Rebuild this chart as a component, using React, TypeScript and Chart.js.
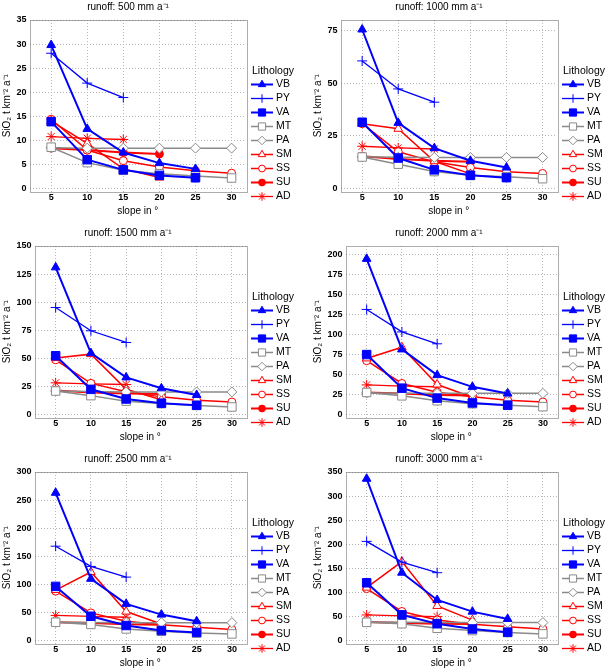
import React, { useEffect, useRef } from 'react';
import { Chart, registerables } from 'chart.js';
import { drawPoint } from 'chart.js/helpers';

Chart.register(...registerables);

const FONT = "'Liberation Sans', Arial, sans-serif";

const slopes = [5, 10, 15, 20, 25, 30];
const runoffs = [500, 1000, 1500, 2000, 2500, 3000];
const yMaxes = [35, 80, 150, 210, 300, 350];
const yTickSteps = [5, 25, 25, 25, 50, 50];
const lithologies = ['VB', 'PY', 'VA', 'MT', 'PA', 'SM', 'SS', 'SU', 'AD'];

// each row = one runoff panel (500..3000), values at slopes 5, 10, 15, ...
const VB = [
  [29.8, 12.4, 7.5, 5.3, 4.1],
  [75.5, 31.2, 19.2, 13.2, 10.0],
  [131, 54.7, 33.1, 23.4, 17.5],
  [194, 81.2, 49.2, 34.6, 26.2],
  [263, 110, 65.4, 46.3, 34.5],
  [336, 141, 84.4, 60.2, 45.0],
];
const PY = [
  [28.1, 21.9, 18.9],
  [60.6, 47.3, 41.0],
  [95.3, 74.6, 64.2],
  [131, 103, 88.2],
  [168, 132, 113],
  [206, 163, 141],
];
const VA = [
  [13.9, 6.0, 3.9, 2.75, 2.25],
  [31.5, 14.5, 8.9, 6.3, 5.2],
  [52.4, 22.5, 13.9, 10.2, 8.3],
  [74.8, 33.0, 20.6, 14.6, 11.8],
  [96.5, 43.4, 26.9, 18.0, 14.6],
  [120, 53.5, 35.0, 24.2, 17.6],
];
const MT = [
  [8.6, 5.4, 3.8, 3.1, 2.6, 2.2],
  [15.0, 11.6, 8.1, 6.3, 5.6, 4.7],
  [21.0, 16.9, 12.0, 9.8, 8.2, 6.8],
  [27.6, 23.4, 17.3, 13.6, 11.6, 9.9],
  [32.7, 28.8, 20.8, 16.6, 13.4, 11.9],
  [38.0, 35.0, 25.6, 20.8, 16.8, 14.0],
];
const PA = [
  [8.5, 8.4, 8.4, 8.4, 8.4, 8.4],
  [15.1, 14.9, 14.8, 14.8, 14.8, 14.8],
  [21.0, 20.6, 20.2, 20.2, 20.2, 20.2],
  [27.0, 26.7, 26.5, 26.5, 26.5, 26.5],
  [32.5, 32.2, 32.0, 32.0, 32.0, 32.0],
  [38.5, 38.0, 37.5, 37.5, 37.5, 37.5],
];
const SM = [
  [14.0, 9.4, 4.1, 2.3],
  [30.8, 28.4, 13.0, 7.0],
  [50.3, 53.8, 22.5, 13.2],
  [70, 84, 37.5, 21.6],
  [90, 122, 51.7, 29.5],
  [110, 164, 72, 42.5],
];
const SS = [
  [14.4, 8.0, 5.8, 4.5, 3.7, 3.2],
  [30.8, 17.5, 12.7, 10.0, 8.0, 7.2],
  [48.8, 27.8, 20.3, 15.8, 12.7, 11.2],
  [67.2, 38.8, 28.0, 22.3, 17.9, 15.8],
  [88.0, 49.3, 34.5, 28.2, 23.6, 19.8],
  [108, 60.5, 42.9, 33.9, 29.0, 24.2],
];
const SU = [
  [8.4, 8.0, 7.5, 7.2],
  [15.4, 14.1, 13.2, 12.8],
  [21.4, 19.6, 18.7, 18.4],
  [27.6, 26.2, 24.6, 23.8],
  [32.8, 31.2, 29.0, 28.2],
  [38.5, 36.5, 35.0, 34.6],
];
const AD = [
  [10.8, 10.45, 10.2],
  [20.1, 19.3, 18.8],
  [28.3, 27.4, 26.8],
  [37.0, 35.6, 34.7],
  [44.8, 43.3, 41.6],
  [53.3, 51.3, 49.8],
];

const seriesValues = [VB, PY, VA, MT, PA, SM, SS, SU, AD];

const BLUE = '#0000ff';
const RED = '#ff0000';
const GRAY = '#8a8a8a';

const styles = [
  { color: BLUE, width: 2, point: 'triangle', r: 5, fill: true, pbw: 1 },
  { color: BLUE, width: 1.3, point: 'cross', r: 5, fill: false, pbw: 1 },
  { color: BLUE, width: 2, point: 'rect', r: 6, fill: true, pbw: 1 },
  { color: GRAY, width: 1.5, point: 'rect', r: 6, fill: false, pbw: 1 },
  { color: GRAY, width: 1.5, point: 'rectRot', r: 5, fill: false, pbw: 1 },
  { color: RED, width: 1.5, point: 'triangle', r: 5, fill: false, pbw: 1 },
  { color: RED, width: 1.5, point: 'circle', r: 4, fill: false, pbw: 1 },
  { color: RED, width: 2, point: 'circle', r: 4, fill: true, pbw: 1 },
  { color: RED, width: 1.3, point: 'star', r: 5, fill: false, pbw: 1 },
];

const framePlugin = {
  id: 'frame',
  beforeDatasetsDraw(chart: any) {
    const { ctx, chartArea: a } = chart;
    ctx.save();
    ctx.strokeStyle = '#5a5a5a';
    ctx.lineWidth = 1;
    ctx.setLineDash([1, 1]);
    ctx.strokeRect(Math.round(a.left) + 0.5, Math.round(a.top) + 0.5, Math.round(a.right - a.left), Math.round(a.bottom - a.top));
    ctx.restore();
  },
};

function makeDecor(idx: number) {
  return {
    id: 'decor',
    afterDraw(chart: any) {
      const { ctx, chartArea: a } = chart;
      ctx.save();
      ctx.fillStyle = '#000';
      ctx.font = `10px ${FONT}`;
      ctx.textAlign = 'center';
      ctx.textBaseline = 'middle';
      ctx.fillText(`runoff: ${runoffs[idx]} mm a\u207B\u00B9`, 128, 7);
      ctx.textAlign = 'left';
      ctx.font = `10.5px ${FONT}`;
      ctx.fillText('Lithology', 252, a.top + 51);
      chart.data.datasets.forEach((ds: any, i: number) => {
        const y = Math.round(a.top + 64 + i * 13.96) + 0.5;
        ctx.setLineDash([]);
        ctx.strokeStyle = ds.borderColor;
        ctx.lineWidth = ds.borderWidth;
        ctx.beginPath();
        ctx.moveTo(251, y);
        ctx.lineTo(273, y);
        ctx.stroke();
        ctx.fillStyle = ds.pointBackgroundColor;
        ctx.strokeStyle = ds.pointBorderColor;
        ctx.lineWidth = ds.pointBorderWidth;
        drawPoint(ctx, { pointStyle: ds.pointStyle, radius: ds.pointRadius * 0.85, rotation: 0, borderWidth: ds.pointBorderWidth }, 262, y);
        ctx.fillStyle = '#000';
        ctx.fillText(ds.label, 276, y);
      });
      ctx.restore();
    },
  };
}

function Panel({ idx, left, top }: { idx: number; left: number; top: number }) {
  const ref = useRef<HTMLCanvasElement>(null);
  useEffect(() => {
    const yMax = yMaxes[idx];
    const step = yTickSteps[idx];
    const topTick = Math.floor(yMax / step) * step;
    const yWidth = 19.5 + 5 * String(topTick).length;
    const datasets = lithologies.map((name, s) => {
      const st = styles[s];
      const vals = seriesValues[s][idx];
      return {
        label: name,
        data: vals.map((v, i) => ({ x: slopes[i], y: v })),
        borderColor: st.color,
        backgroundColor: st.color,
        borderWidth: st.width,
        pointStyle: st.point,
        pointRadius: st.r,
        pointHoverRadius: st.r,
        pointBorderColor: st.color,
        pointBackgroundColor: st.fill ? st.color : '#ffffff',
        pointBorderWidth: st.pbw,
        tension: 0,
        fill: false,
      };
    });
    const gridOpts = { color: '#b8b8b8', lineWidth: 1, drawTicks: false };
    const chart = new Chart(ref.current as HTMLCanvasElement, {
      type: 'line',
      data: { datasets } as any,
      options: {
        responsive: false,
        animation: false,
        devicePixelRatio: 1,
        events: [],
        layout: { padding: { top: 20, right: 54, bottom: 0, left: 0 } },
        plugins: { legend: { display: false }, title: { display: false }, tooltip: { enabled: false } },
        scales: {
          x: {
            type: 'linear',
            min: 2,
            max: 32,
            afterBuildTicks: (s: any) => {
              s.ticks = slopes.map((v) => ({ value: v }));
            },
            afterFit: (s: any) => {
              s.height = 34.5;
            },
            grid: gridOpts,
            border: { display: false, dash: [1, 2] },
            ticks: { font: { family: FONT, size: 9, weight: 'bold' }, color: '#000', padding: 1, maxRotation: 0, autoSkip: false },
            title: { display: true, text: 'slope in \u00B0', font: { family: FONT, size: 10 }, color: '#000', padding: { top: 0, bottom: 9 } },
          },
          y: {
            type: 'linear',
            min: -yMax * 0.017,
            max: yMax,
            afterBuildTicks: (s: any) => {
              const t = [];
              for (let v = 0; v <= yMax + 1e-9; v += step) t.push({ value: v });
              s.ticks = t;
            },
            afterFit: (s: any) => {
              s.width = yWidth;
            },
            grid: gridOpts,
            border: { display: false, dash: [1, 2] },
            ticks: { font: { family: FONT, size: 9, weight: 'bold' }, color: '#000', padding: 3 },
            title: { display: true, text: 'SiO\u2082 t km\u207B\u00B2 a\u207B\u00B9', font: { family: FONT, size: 10 }, color: '#000', padding: { top: 1.5, bottom: 3 } },
          },
        },
      } as any,
      plugins: [framePlugin, makeDecor(idx)],
    });
    return () => chart.destroy();
  }, [idx]);
  return (
    <canvas
      ref={ref}
      width={300}
      height={226}
      style={{ position: 'absolute', left, top, width: 300, height: 226, display: 'block' }}
    />
  );
}

export default function App() {
  const rowTops = [0, 226, 452];
  return (
    <div style={{ position: 'absolute', left: 0, top: 0, width: 605, height: 668, overflow: 'hidden', background: '#fff' }}>
      {runoffs.map((r, i) => (
        <Panel key={r} idx={i} left={(i % 2) * 311} top={rowTops[Math.floor(i / 2)]} />
      ))}
    </div>
  );
}
